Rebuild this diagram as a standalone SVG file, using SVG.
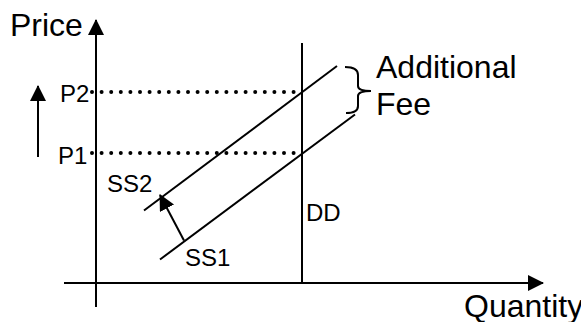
<svg xmlns="http://www.w3.org/2000/svg" width="581" height="322" viewBox="0 0 581 322">
<style>
.ln{stroke:#000;stroke-width:2;fill:none}
.dot{stroke:#000;stroke-width:4;stroke-linecap:round;stroke-dasharray:0 9.6;fill:none}
.big{font-family:"Liberation Sans",Arial,sans-serif;font-size:32px;fill:#000}
.sm{font-family:"Liberation Sans",Arial,sans-serif;font-size:24px;fill:#000}
</style>
<defs>
<marker id="ah" viewBox="0 0 16 16" refX="15" refY="8" markerWidth="16" markerHeight="16" markerUnits="userSpaceOnUse" orient="auto">
<path d="M0,0 L16,8 L0,16 Z" fill="#000"/>
</marker>
</defs>
<g id="connectors">
<line id="y-axis" class="ln" x1="96" y1="307" x2="96" y2="20" marker-end="url(#ah)"/>
<line id="x-axis" class="ln" x1="64" y1="283" x2="543" y2="283" marker-end="url(#ah)"/>
<line id="price-up" class="ln" x1="38" y1="157" x2="38" y2="86" marker-end="url(#ah)"/>
<line id="dd" class="ln" x1="302" y1="43" x2="302" y2="283"/>
<line id="ss1" class="ln" x1="160" y1="259.5" x2="355" y2="114.5"/>
<line id="ss2" class="ln" x1="144" y1="210.5" x2="337" y2="66"/>
<line id="shift" class="ln" x1="184" y1="240.5" x2="160" y2="195" marker-end="url(#ah)"/>
<line id="p2-line" class="dot" x1="92" y1="92" x2="300" y2="92"/>
<line id="p1-line" class="dot" x1="92" y1="153" x2="300" y2="153"/>
<path id="brace" class="ln" d="M345,67 Q358,67 358,75 L358,86 Q358,91 371,91 Q358,91 358,96 L358,106 Q358,113 346,113"/>
</g>
<g id="label-price"><text class="big" x="10" y="36">Price</text></g>
<g id="label-quantity"><text class="big" x="464" y="317">Quantity</text></g>
<g id="label-p2"><text class="sm" x="60" y="102">P2</text></g>
<g id="label-p1"><text class="sm" x="58" y="164">P1</text></g>
<g id="label-ss2"><text class="sm" x="107" y="192">SS2</text></g>
<g id="label-ss1"><text class="sm" x="185" y="266">SS1</text></g>
<g id="label-dd"><text class="sm" x="306" y="221">DD</text></g>
<g id="label-fee"><text class="big" x="376" y="78">Additional</text><text class="big" x="376" y="115">Fee</text></g>
</svg>
